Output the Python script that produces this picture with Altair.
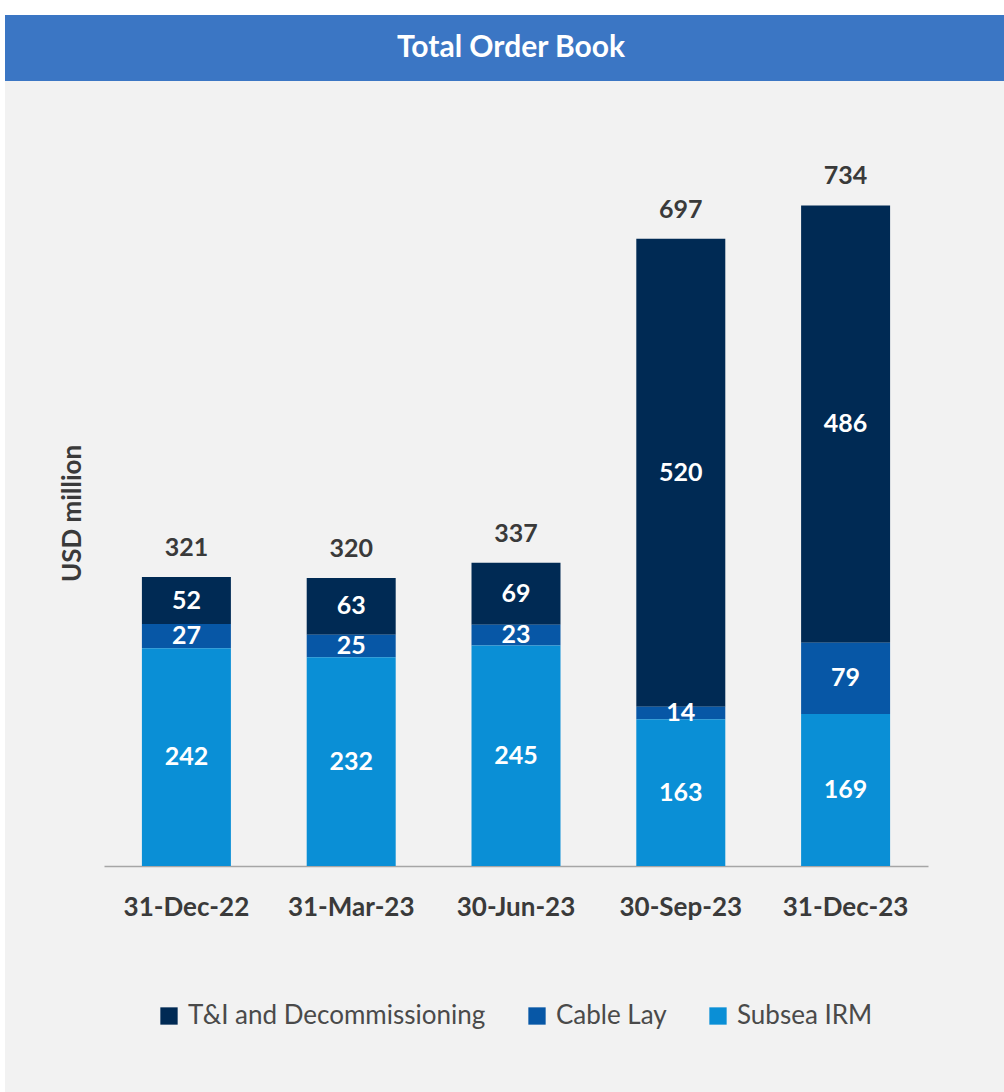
import altair as alt
import pandas as pd

dates = ["31-Dec-22", "31-Mar-23", "30-Jun-23", "30-Sep-23", "31-Dec-23"]
series = ["T&I and Decommissioning", "Cable Lay", "Subsea IRM"]
ti_decom = [52, 63, 69, 520, 486]
cable_lay = [27, 25, 23, 14, 79]
subsea_irm = [242, 232, 245, 163, 169]
totals = [321, 320, 337, 697, 734]
colors = ["#002a54", "#0757a6", "#0a8fd6"]
stack_order = {"Subsea IRM": 0, "Cable Lay": 1, "T&I and Decommissioning": 2}

rows = []
for i, d in enumerate(dates):
    for s, vals in zip(series, [ti_decom, cable_lay, subsea_irm]):
        rows.append({"date": d, "series": s, "value": vals[i], "ord": stack_order[s]})
df = pd.DataFrame(rows)
tot_df = pd.DataFrame({"date": dates, "total": totals})

FONT = "Lato"
TXT = "#3a3a3a"

x_enc = alt.X("date:N", sort=dates, title=None,
              scale=alt.Scale(paddingInner=0.46, paddingOuter=0.23),
              axis=alt.Axis(labelFontSize=26, labelFont=FONT, labelFontWeight="bold",
                            labelColor=TXT, labelAngle=0, ticks=False, labelPadding=28,
                            domainColor="#a6a6a6", domainWidth=1.5))
y_scale = alt.Scale(domain=[0, 840], nice=False)

base = alt.Chart(df).transform_stack(
    stack="value", groupby=["date"], as_=["y0", "y1"],
    sort=[alt.SortField("ord", order="ascending")]
)

bars = base.mark_bar().encode(
    x=x_enc,
    y=alt.Y("y0:Q", scale=y_scale,
            axis=alt.Axis(labels=False, ticks=False, domain=False, grid=False,
                          title="USD million", titleFont=FONT, titleFontSize=26,
                          titleFontWeight="bold", titleColor=TXT, titleX=-32, titleY=403,
                          titleAlign="center", titleBaseline="middle")),
    y2="y1:Q",
    color=alt.Color("series:N", scale=alt.Scale(domain=series, range=colors),
                    legend=alt.Legend(title=None, orient="none", direction="horizontal",
                                      legendX=52, legendY=893, symbolType="square",
                                      symbolSize=300, symbolStrokeWidth=0,
                                      labelFont=FONT, labelFontSize=26, labelColor="#4a4a4a",
                                      labelOffset=6, columnPadding=38, labelLimit=500)),
)

seg_labels = base.transform_calculate(mid="(datum.y0 + datum.y1) / 2").mark_text(
    font=FONT, fontSize=25, fontWeight="bold", color="white", baseline="middle"
).encode(
    x=alt.X("date:N", sort=dates),
    y=alt.Y("mid:Q", scale=y_scale),
    text="value:Q",
)

tot_labels = alt.Chart(tot_df).mark_text(
    font=FONT, fontSize=25, fontWeight="bold", color=TXT, baseline="middle", dy=-29
).encode(
    x=alt.X("date:N", sort=dates),
    y=alt.Y("total:Q", scale=y_scale),
    text="total:Q",
)

deco = pd.DataFrame({"t": ["Total Order Book"]})
white_top = alt.Chart(deco).mark_rect(color="white").encode(
    x=alt.value(-104), x2=alt.value(900), y=alt.value(-110), y2=alt.value(-95))
white_left = alt.Chart(deco).mark_rect(color="white").encode(
    x=alt.value(-104), x2=alt.value(-99), y=alt.value(-110), y2=alt.value(982))
title_bar = alt.Chart(deco).mark_rect(color="#3b76c4").encode(
    x=alt.value(-99), x2=alt.value(900), y=alt.value(-95), y2=alt.value(-29))
title_text = alt.Chart(deco).mark_text(
    font=FONT, fontSize=30, fontWeight="bold", color="white", baseline="middle", align="center"
).encode(x=alt.value(407), y=alt.value(-62), text="t:N")

chart = alt.layer(white_top, white_left, title_bar, title_text, bars, seg_labels, tot_labels).properties(
    width=824, height=756,
    background="#f2f2f2",
    padding={"left": 104, "top": 110, "right": 76, "bottom": 226},
    autosize=alt.AutoSizeParams(type="none"),
).configure_view(stroke=None)

chart.save("out.html", embed_options={"renderer": "svg", "actions": False})
